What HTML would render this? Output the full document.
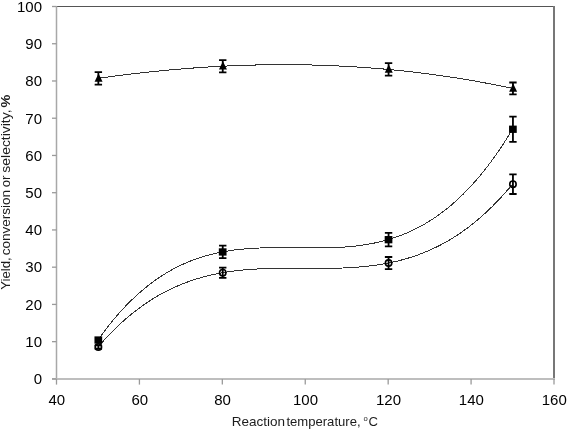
<!DOCTYPE html>
<html><head><meta charset="utf-8"><style>
html,body{margin:0;padding:0;background:#fff;}
body{width:567px;height:429px;overflow:hidden;}
svg{display:block;will-change:transform;}
.tl{font-family:"Liberation Sans",sans-serif;font-size:15px;fill:#000;}
.at{font-family:"Liberation Sans",sans-serif;font-size:13px;fill:#1c1c1c;}
</style></head><body>
<svg width="567" height="429" viewBox="0 0 567 429">
<rect width="567" height="429" fill="#fff"/>
<path d="M56.5,6.5H554" stroke="#555" stroke-width="1.2"/>
<path d="M554,6V379" stroke="#777" stroke-width="2"/>
<path d="M56.5,6V379" stroke="#a8a8a8" stroke-width="1.5"/>
<path d="M52,379H555" stroke="#bebebe" stroke-width="2"/>
<path d="M52,378.90H56.5" stroke="#9a9a9a" stroke-width="1.3"/><path d="M52,341.66H56.5" stroke="#9a9a9a" stroke-width="1.3"/><path d="M52,304.42H56.5" stroke="#9a9a9a" stroke-width="1.3"/><path d="M52,267.18H56.5" stroke="#9a9a9a" stroke-width="1.3"/><path d="M52,229.94H56.5" stroke="#9a9a9a" stroke-width="1.3"/><path d="M52,192.70H56.5" stroke="#9a9a9a" stroke-width="1.3"/><path d="M52,155.46H56.5" stroke="#9a9a9a" stroke-width="1.3"/><path d="M52,118.22H56.5" stroke="#9a9a9a" stroke-width="1.3"/><path d="M52,80.98H56.5" stroke="#9a9a9a" stroke-width="1.3"/><path d="M52,43.74H56.5" stroke="#9a9a9a" stroke-width="1.3"/><path d="M52,6.50H56.5" stroke="#9a9a9a" stroke-width="1.3"/><path d="M56.50,379V384.6" stroke="#9a9a9a" stroke-width="1.3"/><path d="M139.42,379V384.6" stroke="#9a9a9a" stroke-width="1.3"/><path d="M222.33,379V384.6" stroke="#9a9a9a" stroke-width="1.3"/><path d="M305.25,379V384.6" stroke="#9a9a9a" stroke-width="1.3"/><path d="M388.17,379V384.6" stroke="#9a9a9a" stroke-width="1.3"/><path d="M471.08,379V384.6" stroke="#9a9a9a" stroke-width="1.3"/><path d="M554.00,379V384.6" stroke="#9a9a9a" stroke-width="1.3"/>
<g class="tl"><text x="42" y="384.20" text-anchor="end">0</text><text x="42" y="346.96" text-anchor="end">10</text><text x="42" y="309.72" text-anchor="end">20</text><text x="42" y="272.48" text-anchor="end">30</text><text x="42" y="235.24" text-anchor="end">40</text><text x="42" y="198.00" text-anchor="end">50</text><text x="42" y="160.76" text-anchor="end">60</text><text x="42" y="123.52" text-anchor="end">70</text><text x="42" y="86.28" text-anchor="end">80</text><text x="42" y="49.04" text-anchor="end">90</text><text x="42" y="11.80" text-anchor="end">100</text><text x="56.80" y="405.3" text-anchor="middle">40</text><text x="139.72" y="405.3" text-anchor="middle">60</text><text x="222.63" y="405.3" text-anchor="middle">80</text><text x="305.55" y="405.3" text-anchor="middle">100</text><text x="388.47" y="405.3" text-anchor="middle">120</text><text x="471.38" y="405.3" text-anchor="middle">140</text><text x="554.30" y="405.3" text-anchor="middle">160</text></g>
<text class="at" x="231.69" y="426.2" textLength="53.28" lengthAdjust="spacingAndGlyphs">Reaction</text>
<text class="at" x="286.40" y="426.2" textLength="74.17" lengthAdjust="spacingAndGlyphs">temperature,</text>
<text class="at" x="368.43" y="426.2" textLength="9.46" lengthAdjust="spacingAndGlyphs">C</text>
<text class="at" x="363.4" y="421.4" style="font-size:7.6px">o</text>
<g transform="translate(10,0) rotate(-90)"><text class="at" x="-289.68" y="0" textLength="32.24" lengthAdjust="spacingAndGlyphs">Yield,</text><text class="at" x="-255.37" y="0" textLength="65.35" lengthAdjust="spacingAndGlyphs">conversion</text><text class="at" x="-187.25" y="0" textLength="11.67" lengthAdjust="spacingAndGlyphs">or</text><text class="at" x="-172.68" y="0" textLength="63.21" lengthAdjust="spacingAndGlyphs">selectivity,</text><text class="at" x="-107.46" y="0" textLength="12.84" lengthAdjust="spacingAndGlyphs" font-weight="bold">%</text></g>
<polyline points="97.96,78.37 102.10,77.79 106.25,77.21 110.40,76.65 114.54,76.10 118.69,75.56 122.83,75.04 126.98,74.52 131.12,74.02 135.27,73.53 139.42,73.06 143.56,72.59 147.71,72.14 151.85,71.70 156.00,71.28 160.15,70.87 164.29,70.47 168.44,70.08 172.58,69.70 176.73,69.34 180.88,68.99 185.02,68.66 189.17,68.33 193.31,68.02 197.46,67.73 201.60,67.45 205.75,67.18 209.90,66.92 214.04,66.68 218.19,66.45 222.33,66.23 226.48,66.03 230.62,65.84 234.77,65.67 238.92,65.51 243.06,65.36 247.21,65.23 251.35,65.11 255.50,65.01 259.65,64.92 263.79,64.84 267.94,64.78 272.08,64.73 276.23,64.70 280.38,64.68 284.52,64.67 288.67,64.68 292.81,64.71 296.96,64.75 301.10,64.80 305.25,64.87 309.40,64.95 313.54,65.05 317.69,65.16 321.83,65.29 325.98,65.44 330.12,65.60 334.27,65.77 338.42,65.96 342.56,66.16 346.71,66.38 350.85,66.62 355.00,66.87 359.15,67.13 363.29,67.42 367.44,67.71 371.58,68.03 375.73,68.35 379.88,68.70 384.02,69.06 388.17,69.44 392.31,69.83 396.46,70.24 400.60,70.66 404.75,71.10 408.90,71.56 413.04,72.03 417.19,72.52 421.33,73.03 425.48,73.55 429.62,74.09 433.77,74.64 437.92,75.22 442.06,75.81 446.21,76.41 450.35,77.03 454.50,77.67 458.65,78.33 462.79,79.00 466.94,79.69 471.08,80.40 475.23,81.12 479.37,81.87 483.52,82.63 487.67,83.40 491.81,84.20 495.96,85.01 500.10,85.84 504.25,86.68 508.40,87.55 512.54,88.43" fill="none" stroke="#333" stroke-width="1" shape-rendering="crispEdges"/>
<polyline points="97.96,339.98 102.10,334.24 106.25,328.74 110.40,323.48 114.54,318.45 118.69,313.65 122.83,309.06 126.98,304.69 131.12,300.53 135.27,296.58 139.42,292.83 143.56,289.27 147.71,285.90 151.85,282.72 156.00,279.72 160.15,276.89 164.29,274.23 168.44,271.73 172.58,269.40 176.73,267.22 180.88,265.19 185.02,263.30 189.17,261.55 193.31,259.93 197.46,258.44 201.60,257.07 205.75,255.83 209.90,254.69 214.04,253.66 218.19,252.74 222.33,251.91 226.48,251.18 230.62,250.53 234.77,249.96 238.92,249.47 243.06,249.06 247.21,248.70 251.35,248.42 255.50,248.18 259.65,248.00 263.79,247.86 267.94,247.77 272.08,247.71 276.23,247.68 280.38,247.67 284.52,247.69 288.67,247.72 292.81,247.76 296.96,247.81 301.10,247.85 305.25,247.90 309.40,247.92 313.54,247.94 317.69,247.93 321.83,247.90 325.98,247.83 330.12,247.73 334.27,247.59 338.42,247.40 342.56,247.16 346.71,246.86 350.85,246.50 355.00,246.08 359.15,245.58 363.29,245.00 367.44,244.34 371.58,243.59 375.73,242.75 379.88,241.81 384.02,240.77 388.17,239.62 392.31,238.36 396.46,236.98 400.60,235.47 404.75,233.84 408.90,232.07 413.04,230.16 417.19,228.11 421.33,225.90 425.48,223.55 429.62,221.03 433.77,218.35 437.92,215.50 442.06,212.47 446.21,209.26 450.35,205.87 454.50,202.28 458.65,198.50 462.79,194.52 466.94,190.34 471.08,185.94 475.23,181.32 479.37,176.49 483.52,171.42 487.67,166.13 491.81,160.60 495.96,154.83 500.10,148.80 504.25,142.53 508.40,136.00 512.54,129.21" fill="none" stroke="#333" stroke-width="1" shape-rendering="crispEdges"/>
<polyline points="97.96,347.06 102.10,342.34 106.25,337.80 110.40,333.46 114.54,329.30 118.69,325.32 122.83,321.52 126.98,317.89 131.12,314.42 135.27,311.12 139.42,307.98 143.56,305.00 147.71,302.17 151.85,299.49 156.00,296.95 160.15,294.56 164.29,292.30 168.44,290.17 172.58,288.17 176.73,286.29 180.88,284.54 185.02,282.90 189.17,281.38 193.31,279.96 197.46,278.65 201.60,277.44 205.75,276.33 209.90,275.31 214.04,274.38 218.19,273.53 222.33,272.77 226.48,272.08 230.62,271.46 234.77,270.92 238.92,270.44 243.06,270.02 247.21,269.65 251.35,269.34 255.50,269.08 259.65,268.87 263.79,268.70 267.94,268.56 272.08,268.46 276.23,268.39 280.38,268.34 284.52,268.31 288.67,268.30 292.81,268.31 296.96,268.32 301.10,268.35 305.25,268.37 309.40,268.39 313.54,268.40 317.69,268.41 321.83,268.40 325.98,268.37 330.12,268.32 334.27,268.24 338.42,268.14 342.56,268.00 346.71,267.82 350.85,267.60 355.00,267.33 359.15,267.02 363.29,266.65 367.44,266.22 371.58,265.73 375.73,265.18 379.88,264.56 384.02,263.86 388.17,263.08 392.31,262.23 396.46,261.29 400.60,260.25 404.75,259.13 408.90,257.91 413.04,256.59 417.19,255.16 421.33,253.62 425.48,251.97 429.62,250.20 433.77,248.31 437.92,246.30 442.06,244.15 446.21,241.88 450.35,239.46 454.50,236.91 458.65,234.21 462.79,231.36 466.94,228.36 471.08,225.21 475.23,221.89 479.37,218.40 483.52,214.75 487.67,210.93 491.81,206.93 495.96,202.75 500.10,198.38 504.25,193.83 508.40,189.08 512.54,184.13" fill="none" stroke="#333" stroke-width="1" shape-rendering="crispEdges"/>
<path d="M98.56,73.47 L102.56,81.67 L94.56,81.67Z" fill="#000"/>
<path d="M98.36,72.12V84.62M94.66,72.12H102.06M94.66,84.62H102.06" stroke="#000" stroke-width="1.8" fill="none"/>
<path d="M222.93,61.33 L226.93,69.53 L218.93,69.53Z" fill="#000"/>
<path d="M222.73,60.08V72.38M219.03,60.08H226.43M219.03,72.38H226.43" stroke="#000" stroke-width="1.8" fill="none"/>
<path d="M388.77,64.54 L392.77,72.74 L384.77,72.74Z" fill="#000"/>
<path d="M388.57,63.19V75.69M384.87,63.19H392.27M384.87,75.69H392.27" stroke="#000" stroke-width="1.8" fill="none"/>
<path d="M513.14,83.53 L517.14,91.73 L509.14,91.73Z" fill="#000"/>
<path d="M512.94,82.48V94.38M509.24,82.48H516.64M509.24,94.38H516.64" stroke="#000" stroke-width="1.8" fill="none"/>
<rect x="94.46" y="336.38" width="7.7" height="7.3" fill="#000"/>
<rect x="218.83" y="248.31" width="7.7" height="7.3" fill="#000"/>
<path d="M222.73,245.61V258.21M219.03,245.61H226.43M219.03,258.21H226.43" stroke="#000" stroke-width="1.8" fill="none"/>
<rect x="384.67" y="236.02" width="7.7" height="7.3" fill="#000"/>
<path d="M388.57,232.82V246.42M384.87,232.82H392.27M384.87,246.42H392.27" stroke="#000" stroke-width="1.8" fill="none"/>
<rect x="509.04" y="125.61" width="7.7" height="7.3" fill="#000"/>
<path d="M512.94,116.56V141.86M509.24,116.56H516.64M509.24,141.86H516.64" stroke="#000" stroke-width="1.8" fill="none"/>
<circle cx="98.36" cy="347.06" r="3.2" fill="none" stroke="#000" stroke-width="1.6"/>
<path d="M98.36,345.36V348.76M94.66,345.36H102.06M94.66,348.76H102.06" stroke="#000" stroke-width="1.8" fill="none"/>
<circle cx="222.73" cy="272.77" r="3.2" fill="none" stroke="#000" stroke-width="1.6"/>
<path d="M222.73,267.62V277.92M219.03,267.62H226.43M219.03,277.92H226.43" stroke="#000" stroke-width="1.8" fill="none"/>
<circle cx="388.57" cy="263.08" r="3.2" fill="none" stroke="#000" stroke-width="1.6"/>
<path d="M388.57,256.98V269.18M384.87,256.98H392.27M384.87,269.18H392.27" stroke="#000" stroke-width="1.8" fill="none"/>
<circle cx="512.94" cy="184.13" r="3.2" fill="none" stroke="#000" stroke-width="1.6"/>
<path d="M512.94,174.28V193.98M509.24,174.28H516.64M509.24,193.98H516.64" stroke="#000" stroke-width="1.8" fill="none"/>
</svg>
</body></html>
